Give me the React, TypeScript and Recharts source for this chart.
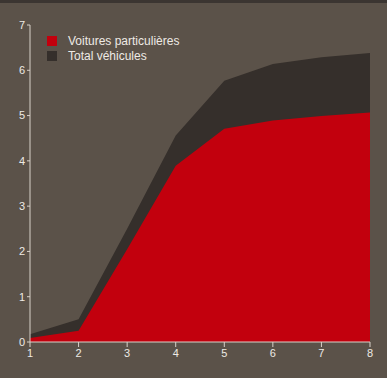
import React from 'react';
import { AreaChart, Area, XAxis, YAxis, Legend } from 'recharts';

// years index on x, millions of vehicles on y
const years = [1, 2, 3, 4, 5, 6, 7, 8];
const voitures = [0.09, 0.25, 2.05, 3.89, 4.71, 4.89, 4.99, 5.07];
const total = [0.17, 0.5, 2.5, 4.56, 5.77, 6.14, 6.29, 6.38];
const yTicks = [0, 1, 2, 3, 4, 5, 6, 7];

const BG = '#5b5249';
const RED = '#c2000d';
const DARK = '#352f2b';
const AXIS = '#d9d2ca';

const data = years.map((x, i) => ({ x, voitures: voitures[i], total: total[i] }));

const legendItems = [
  { label: 'Voitures particulières', color: RED },
  { label: 'Total véhicules', color: DARK }
];

const ChartLegend = () => (
  <div style={{ position: 'absolute', left: 47, top: 33 }}>
    {legendItems.map((it) => (
      <div key={it.label} style={{ display: 'flex', alignItems: 'center', height: 15 }}>
        <span style={{ width: 10, height: 10, background: it.color, display: 'inline-block', marginRight: 11 }} />
        <span style={{ fontSize: 12, color: '#eeeae5', fontFamily: '"Liberation Sans", Arial, sans-serif' }}>
          {it.label}
        </span>
      </div>
    ))}
  </div>
);

const App: React.FC = () => {
  return (
    <div style={{ position: 'absolute', left: 0, top: 0, width: 387, height: 378, background: BG }}>
      <div style={{ position: 'absolute', left: 0, top: 0, width: 387, height: 3, background: '#3b3531' }} />
      <AreaChart
        width={387}
        height={378}
        data={data}
        margin={{ top: 25, right: 17, left: 0, bottom: 16 }}
        style={{ fontFamily: '"Liberation Sans", Arial, sans-serif' }}
      >
        <XAxis
          dataKey="x"
          type="number"
          domain={[1, 8]}
          ticks={years}
          height={20}
          stroke={AXIS}
          tickSize={5}
          tickMargin={2}
          tick={{ fill: '#eeeae5', fontSize: 11 }}
        />
        <YAxis
          domain={[0, 7]}
          ticks={yTicks}
          width={30}
          stroke={AXIS}
          tickSize={3}
          tickMargin={2}
          tick={{ fill: '#eeeae5', fontSize: 11 }}
        />
        <Legend content={() => null} />
        <Area
          type="linear"
          dataKey="total"
          stroke="none"
          fill={DARK}
          fillOpacity={1}
          isAnimationActive={false}
        />
        <Area
          type="linear"
          dataKey="voitures"
          stroke="none"
          fill={RED}
          fillOpacity={1}
          isAnimationActive={false}
        />
      </AreaChart>
      <ChartLegend />
    </div>
  );
};

export default App;
